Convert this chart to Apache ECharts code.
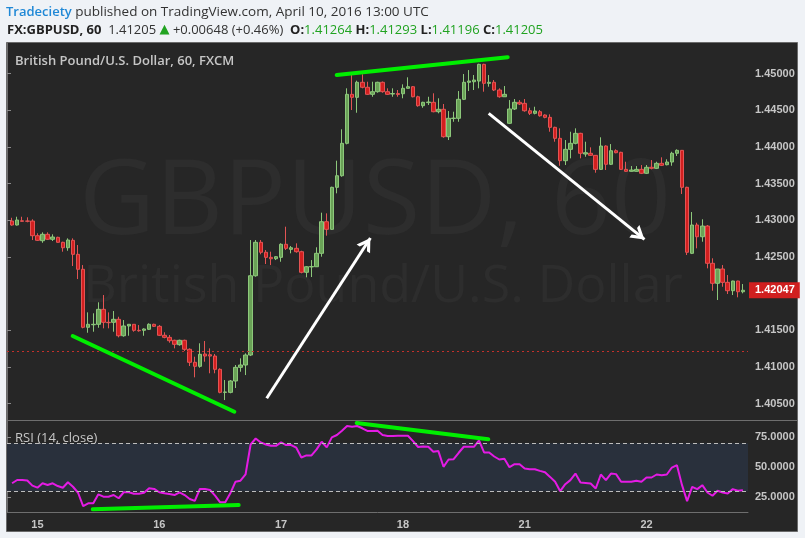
<!DOCTYPE html>
<html>
<head>
<meta charset="utf-8">
<script src="https://cdn.jsdelivr.net/npm/echarts@6/dist/echarts.min.js"></script>
<style>
html,body{margin:0;padding:0;background:#eff2f6;}
#c{width:805px;height:538px;}
</style>
</head>
<body>
<div id="c"></div>
<script>
// ---------- DATA ----------
// hourly sessions: [day, firstHour, lastHour]
const sessions = [[14,19,23],[15,0,23],[16,0,23],[17,0,23],[18,0,20],[20,21,23],[21,0,23],[22,0,19]];

const opens = [1.42991,1.42937,1.42995,1.42991,1.42991,1.42791,1.42723,1.42810,1.42742,1.42769,
1.42701,1.42627,1.42728,1.42537,1.42333,1.41542,1.41577,1.41583,1.41787,1.41610,
1.41610,1.41651,1.41427,1.41560,1.41583,1.41501,1.41501,1.41515,1.41583,1.41555,
1.41433,1.41405,1.41365,1.41305,1.41365,1.41242,1.41065,1.41010,1.41178,1.41168,
1.41150,1.40969,1.40655,1.40655,1.40810,1.40996,1.41028,1.41164,1.42245,1.42701,
1.42565,1.42496,1.42477,1.42496,1.42674,1.42605,1.42619,1.42573,1.42292,1.42365,
1.42368,1.42551,1.42982,1.42878,1.43451,1.43609,1.44051,1.44719,1.44678,1.44883,
1.44815,1.44719,1.44755,1.44883,1.44755,1.44723,1.44730,1.44727,1.44801,1.44823,
1.44686,1.44564,1.44606,1.44610,1.44482,1.44515,1.44141,1.44389,1.44392,1.44651,
1.44883,1.44891,1.44900,1.45128,1.44869,1.44883,1.44778,1.44686,1.44324,1.44519,
1.44610,1.44596,1.44495,1.44460,1.44482,1.44437,1.44405,1.44269,1.44119,1.43814,
1.43969,1.44051,1.44187,1.43905,1.43915,1.43887,1.43696,1.44014,1.43765,1.43950,
1.43928,1.43696,1.43669,1.43669,1.43696,1.43642,1.43724,1.43710,1.43778,1.43759,
1.43796,1.43915,1.43955,1.43451,1.42551,1.42937,1.42777,1.42923,1.42415,1.42142,
1.42337,1.42155,1.42041,1.42173,1.42027];

const closes = [1.42937,1.43005,1.42987,1.42989,1.42791,1.42728,1.42810,1.42742,1.42773,1.42701,
1.42627,1.42732,1.42537,1.42333,1.41542,1.41583,1.41583,1.41787,1.41610,1.41605,
1.41651,1.41427,1.41560,1.41583,1.41501,1.41495,1.41519,1.41583,1.41555,1.41433,
1.41405,1.41359,1.41310,1.41365,1.41242,1.41065,1.41010,1.41174,1.41150,1.41150,
1.40969,1.40655,1.40660,1.40810,1.40996,1.41028,1.41164,1.42245,1.42701,1.42565,
1.42496,1.42477,1.42505,1.42674,1.42619,1.42627,1.42573,1.42292,1.42368,1.42371,
1.42551,1.42982,1.42878,1.43451,1.43609,1.44051,1.44719,1.44678,1.44883,1.44815,
1.44719,1.44755,1.44883,1.44755,1.44719,1.44730,1.44716,1.44801,1.44823,1.44686,
1.44564,1.44610,1.44614,1.44482,1.44515,1.44141,1.44392,1.44395,1.44651,1.44883,
1.44900,1.44914,1.45128,1.44869,1.44883,1.44778,1.44686,1.44719,1.44519,1.44610,
1.44587,1.44495,1.44460,1.44491,1.44427,1.44405,1.44269,1.44119,1.43814,1.43969,
1.44051,1.44187,1.43915,1.43923,1.43887,1.43696,1.44014,1.43765,1.43950,1.43923,
1.43696,1.43669,1.43687,1.43696,1.43642,1.43724,1.43710,1.43778,1.43751,1.43796,
1.43915,1.43955,1.43451,1.42565,1.42937,1.42777,1.42923,1.42415,1.42142,1.42337,
1.42155,1.42041,1.42173,1.42027,1.42047];

const lows = [1.42927,1.42930,1.42982,1.42974,1.42732,1.42719,1.42695,1.42732,1.42719,1.42695,
1.42573,1.42586,1.42378,1.42200,1.41528,1.41468,1.41482,1.41536,1.41528,1.41528,
1.41482,1.41405,1.41414,1.41427,1.41482,1.41482,1.41427,1.41505,1.41546,1.41423,
1.41392,1.41332,1.41255,1.41291,1.41219,1.41014,1.40860,1.40991,1.41073,1.40915,
1.40915,1.40642,1.40550,1.40642,1.40714,1.40936,1.40891,1.41150,1.42232,1.42537,
1.42405,1.42391,1.42459,1.42436,1.42596,1.42551,1.42559,1.42278,1.42224,1.42228,
1.42364,1.42505,1.42791,1.42869,1.43369,1.43595,1.44037,1.44505,1.44468,1.44801,
1.44710,1.44686,1.44741,1.44741,1.44710,1.44686,1.44686,1.44665,1.44798,1.44678,
1.44550,1.44536,1.44573,1.44474,1.44460,1.44127,1.44096,1.44345,1.44345,1.44641,
1.44764,1.44778,1.44801,1.44755,1.44823,1.44764,1.44673,1.44686,1.44314,1.44505,
1.44573,1.44482,1.44437,1.44446,1.44414,1.44392,1.44209,1.44073,1.43745,1.43755,
1.43846,1.44037,1.43846,1.43868,1.43878,1.43650,1.43687,1.43687,1.43755,1.43915,
1.43687,1.43664,1.43664,1.43664,1.43632,1.43632,1.43696,1.43700,1.43741,1.43751,
1.43745,1.43878,1.43360,1.42528,1.42541,1.42619,1.42709,1.42346,1.42041,1.41914,
1.42095,1.41996,1.41982,1.41951,1.42005];

const highs = [1.43036,1.43050,1.43050,1.43042,1.43015,1.42824,1.42837,1.42837,1.42810,1.42777,
1.42709,1.42755,1.42755,1.42664,1.42391,1.41746,1.41733,1.41883,1.41982,1.41746,
1.41764,1.41686,1.41641,1.41587,1.41587,1.41573,1.41528,1.41596,1.41591,1.41573,
1.41474,1.41437,1.41373,1.41373,1.41373,1.41255,1.41141,1.41324,1.41355,1.41255,
1.41178,1.40983,1.40823,1.40823,1.41028,1.41119,1.41187,1.42732,1.42732,1.42732,
1.42596,1.42573,1.42514,1.42687,1.42914,1.42650,1.42687,1.42586,1.42378,1.42459,
1.42633,1.43105,1.43096,1.43459,1.43814,1.44242,1.44801,1.44982,1.44905,1.44992,
1.44891,1.44891,1.44891,1.44894,1.44801,1.44801,1.44778,1.44855,1.44951,1.44832,
1.44700,1.44618,1.44686,1.44733,1.44665,1.44587,1.44491,1.44482,1.44764,1.44996,
1.45050,1.44982,1.45136,1.45136,1.44982,1.44914,1.44801,1.44832,1.44641,1.44655,
1.44641,1.44655,1.44536,1.44550,1.44505,1.44446,1.44446,1.44277,1.44255,1.44096,
1.44209,1.44255,1.44195,1.44073,1.43996,1.43891,1.44133,1.44024,1.44041,1.43969,
1.43936,1.43800,1.43741,1.43741,1.43755,1.43755,1.43823,1.43800,1.43860,1.43833,
1.43936,1.43969,1.43960,1.43459,1.43114,1.42968,1.43015,1.42937,1.42483,1.42337,
1.42391,1.42255,1.42177,1.42177,1.42132];

const rsi = [36.7,39.4,39.4,39,34.7,33,36.7,35.3,36.7,34.4,
33,37.5,33.8,28.8,17.7,20,20,27.5,25.5,25.5,
26.9,24.2,29.2,29.2,28,28,28.8,32.5,32,29.2,
28.3,27.8,26.9,29.2,26.9,23.6,22,31.9,31.9,31.1,
26.4,20.8,20.8,28.3,37.9,38.8,44,69,74,70.7,
69,67.9,67.9,70.7,68.5,68.5,66.3,58.2,59.9,59.9,
64.9,71.3,66.6,74.9,76.9,80.5,84.4,83.8,84.4,82.5,
80.3,80.3,80.5,76.9,76,76,76.3,76.3,76.3,71.8,
66.9,67.4,67.1,63,63.5,50.4,56.5,56.8,62.1,67.1,
67.1,67.1,72.4,62.4,62.4,59,56.5,57.1,50.1,52.6,
52.6,49,48.4,48.4,47,45.9,42,37.9,30.1,35.9,
39.3,44.8,37.3,37,36.5,32.3,44,39.3,44.8,44.3,
37.9,37.9,37.9,38.8,37.9,41.5,41.5,44,43.4,44,
49.8,51.8,35.1,21.8,33.7,31.8,35.1,29,26.3,30.4,
29,28.2,31.8,30.4,30.9];

const priceTicks = [1.405,1.41,1.415,1.425,1.43,1.435,1.44,1.445,1.45];
const rsiTicks = [25,50,75];
const rsiBands = [30,70];
const lastPrice = 1.42047;
const refPrice = 1.41212;

// drawn annotations, [barPosition, value] (bar positions on the padded axis)
const priceTrendLow = [[12.95,1.41423],[44.79,1.40391]];
const priceTrendHigh = [[64.96,1.44982],[98.65,1.45224]];
const arrowUp = [[51.17,1.40574],[71.6,1.42760]];
const arrowDown = [[94.91,1.44460],[125.6,1.42740]];
const rsiTrendLow = [[16.89,15.0],[45.65,18.6]];
const rsiTrendHigh = [[68.9,86.9],[94.83,73.3]];

// ---------- BUILD ----------
const categories = ['pad-start'];
sessions.forEach(s => { for (let h = s[1]; h <= s[2]; h++) categories.push(s[0] + ' ' + (h < 10 ? '0' : '') + h + ':00'); });
categories.push('pad-end');

const EMPTY = ['-', '-', '-', '-'];
const candleData = [EMPTY];
for (let i = 0; i < opens.length; i++) candleData.push([opens[i], closes[i], lows[i], highs[i]]);
candleData.push(EMPTY);
const rsiData = ['-'].concat(rsi, ['-']);
const nPos = categories.length - 1;

const chevron = 'path://M0,13 L8,0 L16,13 L12.3,13 L8,5.9 L3.7,13 Z M7.99,-13 L8.01,-13 L8,-12.98 Z';

const axisCol = '#6e6e6e';
const txtCol = '#c6c6c6';

const chart = echarts.init(document.getElementById('c'), null, {renderer: 'canvas', width: 805, height: 538});

chart.setOption({
  animation: false,
  backgroundColor: '#eff2f6',
  graphic: [
    {type: 'rect', z: -10, shape: {x: 6.5, y: 42.5, width: 791, height: 489}, style: {fill: '#262626', stroke: '#6a6a6a', lineWidth: 1}},
    {type: 'text', z: -5, x: 375, y: 204, style: {text: 'GBPUSD, 60', fill: '#2d2d2d', fontSize: 105, fontFamily: 'Open Sans', align: 'center', verticalAlign: 'middle'}},
    {type: 'text', z: -5, x: 383, y: 287, style: {text: 'British Pound/U.S. Dollar', fill: '#2d2d2d', fontSize: 52, fontFamily: 'Open Sans', align: 'center', verticalAlign: 'middle'}},
    {type: 'line', z: 20, shape: {x1: 6.5, y1: 420.5, x2: 797.5, y2: 420.5}, style: {stroke: axisCol, lineWidth: 1}},
    {type: 'text', z: 20, x: 6, y: 12, style: {
      text: '{t|Tradeciety}{p| published on TradingView.com, April 10, 2016 13:00 UTC}',
      verticalAlign: 'middle',
      rich: {
        t: {fill: '#1f88d6', fontWeight: 600, fontSize: 13, fontFamily: 'Open Sans'},
        p: {fill: '#333333', fontSize: 13.5, fontFamily: 'Open Sans'}
      }}},
    {type: 'text', z: 20, x: 7, y: 30, style: {
      text: '{b|FX:GBPUSD, 60}{n|  1.41205 }{g|▲}{n| +0.00648 (+0.46%)  }{b|O:}{v|1.41264}{b| H:}{v|1.41293}{b| L:}{v|1.41196}{b| C:}{v|1.41205}',
      verticalAlign: 'middle',
      rich: {
        b: {fill: '#222222', fontWeight: 'bold', fontSize: 13, fontFamily: 'Open Sans'},
        n: {fill: '#333333', fontSize: 13, fontFamily: 'Open Sans'},
        g: {fill: '#21a321', fontSize: 13, fontFamily: 'DejaVu Sans'},
        v: {fill: '#21a321', fontSize: 13, fontFamily: 'Open Sans'}
      }}},
    {type: 'text', z: 20, x: 15, y: 61, style: {text: 'British Pound/U.S. Dollar, 60, FXCM', fill: txtCol, fontSize: 13, fontWeight: 600, fontFamily: 'Open Sans', verticalAlign: 'middle'}},
    {type: 'text', z: 20, x: 15, y: 438, style: {text: 'RSI (14, close)', fill: txtCol, fontSize: 13, fontFamily: 'Open Sans', verticalAlign: 'middle'}}
  ],
  grid: [
    {left: 7, right: 57, top: 43, height: 377},
    {left: 7, right: 57, top: 420, height: 92}
  ],
  xAxis: [
    {type: 'category', gridIndex: 0, data: categories, boundaryGap: false, show: false},
    {type: 'category', gridIndex: 1, data: categories, boundaryGap: false,
      axisLine: {show: true, lineStyle: {color: axisCol}}, axisTick: {show: false}, splitLine: {show: false},
      axisLabel: {interval: (i, v) => / 00:00$/.test(v), formatter: v => v.split(' ')[0], color: txtCol, fontSize: 11, fontWeight: 'bold', fontFamily: 'Liberation Sans', margin: 7}},
    {type: 'value', gridIndex: 0, min: 0, max: nPos, show: false},
    {type: 'value', gridIndex: 1, min: 0, max: nPos, show: false}
  ],
  yAxis: [
    {type: 'value', gridIndex: 0, position: 'right', min: 1.40278, max: 1.45419, scale: true,
      splitLine: {show: false}, axisLine: {show: true, lineStyle: {color: axisCol}},
      axisTick: {show: true, length: 4, lineStyle: {color: '#8a8a8a'}, customValues: priceTicks},
      axisLabel: {customValues: priceTicks, formatter: v => v.toFixed(5), color: txtCol, fontSize: 11, fontWeight: 'bold', fontFamily: 'Liberation Sans', margin: 7}},
    {type: 'value', gridIndex: 1, position: 'right', min: 12.75, max: 89.4,
      splitLine: {show: false}, axisLine: {show: true, lineStyle: {color: axisCol}},
      axisTick: {show: true, length: 4, lineStyle: {color: '#8a8a8a'}, customValues: rsiTicks},
      axisLabel: {customValues: rsiTicks, formatter: v => v.toFixed(4), color: txtCol, fontSize: 11, fontWeight: 'bold', fontFamily: 'Liberation Sans', margin: 7}}
  ],
  series: [
    {type: 'candlestick', name: 'FX:GBPUSD', xAxisIndex: 0, yAxisIndex: 0, data: candleData, barWidth: 4,
      itemStyle: {color: '#6aa257', color0: '#d21f1f', borderColor: '#8dc87b', borderColor0: '#e35454', borderWidth: 1},
      markLine: {silent: true, symbol: ['none', 'none'], animation: false, precision: 5,
        data: [
          {yAxis: lastPrice, lineStyle: {color: 'rgba(0,0,0,0)', width: 0},
            label: {show: true, position: 'end', distance: 1, formatter: () => lastPrice.toFixed(5), backgroundColor: '#d01f1f', color: '#ffffff', fontWeight: 'bold', fontSize: 11, fontFamily: 'Liberation Sans', padding: [3, 5, 2, 6]}},
          {yAxis: refPrice, lineStyle: {color: '#c4302b', type: [2, 3], width: 1}, label: {show: false}}
        ]}},
    {type: 'line', xAxisIndex: 2, yAxisIndex: 0, data: priceTrendLow, symbol: 'none', z: 5,
      lineStyle: {color: '#00ee00', width: 4, cap: 'round'}},
    {type: 'line', xAxisIndex: 2, yAxisIndex: 0, data: priceTrendHigh, symbol: 'none', z: 5,
      lineStyle: {color: '#00ee00', width: 4, cap: 'round'},
      markLine: {silent: true, symbol: ['none', chevron], symbolSize: [16, 26], animation: false, precision: 5,
        lineStyle: {color: '#ffffff', width: 3, type: 'solid'}, label: {show: false},
        data: [arrowUp, arrowDown].map(a => [{coord: a[0]}, {coord: a[1]}])}},
    {type: 'line', name: 'RSI', xAxisIndex: 1, yAxisIndex: 1, data: rsiData, symbol: 'none', z: 4,
      lineStyle: {color: '#e41be4', width: 2},
      markArea: {silent: true, itemStyle: {color: '#29303c'}, data: [[{yAxis: rsiBands[0]}, {yAxis: rsiBands[1]}]]},
      markLine: {silent: true, symbol: ['none', 'none'], animation: false, label: {show: false},
        lineStyle: {color: '#bdbdbd', type: [4, 3], width: 1},
        data: rsiBands.map(v => ({yAxis: v}))}},
    {type: 'line', xAxisIndex: 3, yAxisIndex: 1, data: rsiTrendLow, symbol: 'none', z: 5,
      lineStyle: {color: '#00ee00', width: 4, cap: 'round'}},
    {type: 'line', xAxisIndex: 3, yAxisIndex: 1, data: rsiTrendHigh, symbol: 'none', z: 5,
      lineStyle: {color: '#00ee00', width: 4, cap: 'round'}}
  ]
});
</script>
</body>
</html>
